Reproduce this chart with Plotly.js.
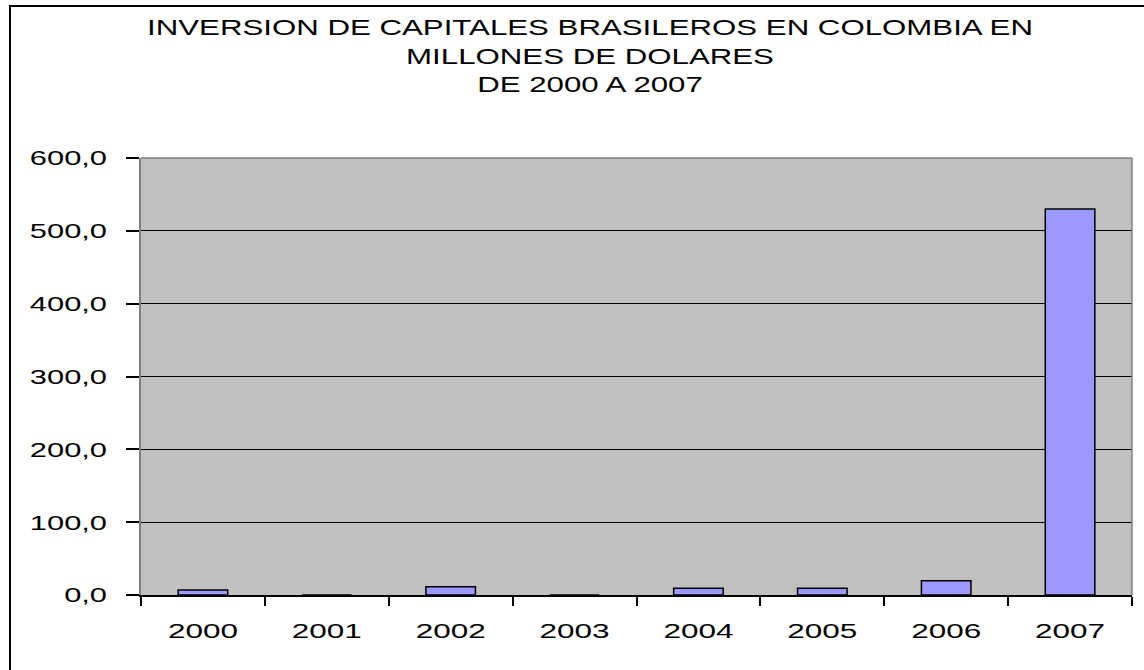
<!DOCTYPE html>
<html>
<head>
<meta charset="utf-8">
<script src="https://cdn.plot.ly/plotly-3.0.1.min.js"></script>
<style>html,body{margin:0;padding:0;background:#fff;}#chart{width:1144px;height:670px;}</style>
</head>
<body>
<div id="chart"></div>
<script>
const years = ['2000','2001','2002','2003','2004','2005','2006','2007'];
const inversion = [6.9, 0, 11.4, 0, 9.2, 9.2, 19.6, 530.0];
const yTicks = [0, 100, 200, 300, 400, 500, 600];

const W = 1144, H = 670;
const m = {l: 141, r: 12, t: 158, b: 75};
const pw = W - m.l - m.r, ph = H - m.t - m.b;
function px(x){ return (x - m.l) / pw; }
function py(y){ return (H - m.b - y) / ph; }

const font = 'Liberation Sans, Arial, sans-serif';

const data = [{
  type: 'bar',
  x: years,
  y: inversion,
  marker: {color: '#9999FF', line: {color: '#000000', width: 1.5}},
  hoverinfo: 'x+y'
}];

const layout = {
  width: W, height: H,
  margin: m,
  paper_bgcolor: '#ffffff',
  plot_bgcolor: '#C0C0C0',
  separators: ',.',
  bargap: 0.6,
  showlegend: false,
  font: {family: font, size: 21, color: '#000'},
  title: {
    text: 'INVERSION DE CAPITALES BRASILEROS EN COLOMBIA EN<br>MILLONES DE DOLARES<br>DE 2000 A 2007',
    font: {family: font, size: 22, color: '#000'},
    x: 590 / W, xref: 'container', xanchor: 'center',
    y: 1 - 35 / H, yref: 'container', yanchor: 'top'
  },
  xaxis: {
    type: 'category',
    tickson: 'boundaries',
    ticks: 'outside', ticklen: 9, tickwidth: 1.5, tickcolor: '#000',
    showline: true, linecolor: '#000', linewidth: 1.5,
    showgrid: false, zeroline: false,
    tickfont: {family: font, size: 21, color: '#000'},
    ticklabelstandoff: 16
  },
  yaxis: {
    range: [0, 600],
    tickvals: yTicks,
    tickformat: '.1f',
    ticks: 'outside', ticklen: 13, tickwidth: 1.5, tickcolor: '#000',
    showline: true, linecolor: '#808080', linewidth: 1.5,
    showgrid: true, gridcolor: '#000', gridwidth: 1,
    zeroline: false,
    tickfont: {family: font, size: 21, color: '#000'},
    ticklabelstandoff: 15
  },
  shapes: [
    {type: 'line', xref: 'paper', yref: 'paper',
     x0: px(1132), x1: px(1132), y0: py(158), y1: py(595),
     line: {color: '#808080', width: 1.5}},
    {type: 'line', xref: 'paper', yref: 'paper',
     x0: px(141), x1: px(1132), y0: py(158), y1: py(158),
     line: {color: '#808080', width: 1.5}},
    {type: 'rect', xref: 'paper', yref: 'paper',
     x0: px(10), x1: px(1150), y0: py(6), y1: py(680),
     line: {color: '#000', width: 2}, layer: 'above'}
  ]
};

// Reference text is horizontally stretched; reproduce by scaling each text about its anchor.
function stretch(sel, sx) {
  document.querySelectorAll(sel).forEach(function(el){
    if (!el.hasAttribute('data-orig-tf')) {
      el.setAttribute('data-orig-tf', el.getAttribute('transform') || '');
    }
    const base = el.getAttribute('data-orig-tf');
    const cx = parseFloat(el.getAttribute('x')) || 0;
    el.setAttribute('transform', base + ' translate(' + cx + ',0) scale(' + sx + ',1) translate(' + (-cx) + ',0)');
  });
}
function applyStretch() {
  stretch('#chart .xtick text', 1.5);
  stretch('#chart .ytick text', 1.47);
  stretch('#chart .gtitle', 1.42);
}

Plotly.newPlot('chart', data, layout, {displayModeBar: false}).then(function(gd){
  applyStretch();
  gd.on('plotly_afterplot', applyStretch);
});
</script>
</body>
</html>
